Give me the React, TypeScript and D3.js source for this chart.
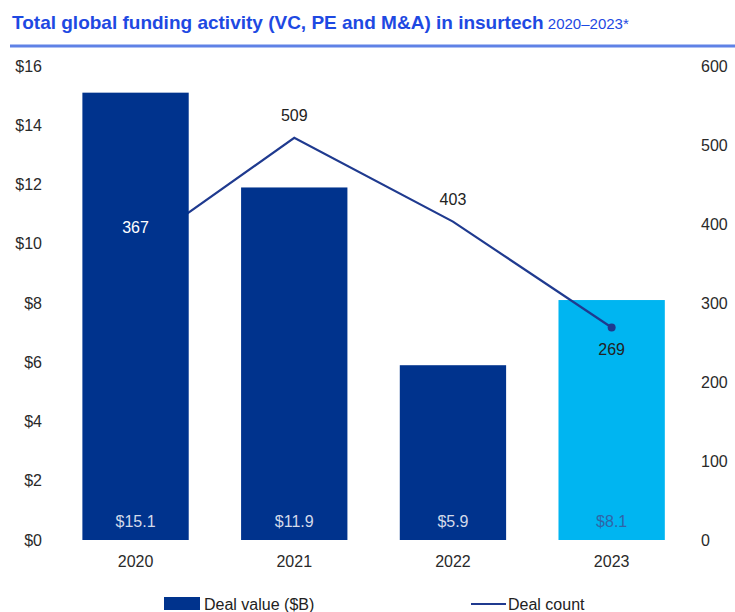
import React from "react";
import * as d3 from "d3";

const years = ["2020", "2021", "2022", "2023"];
const dealValue = [15.1, 11.9, 5.9, 8.1];
const dealCount = [367, 509, 403, 269];
const highlighted = [false, false, false, true];
const leftTicks = [0, 2, 4, 6, 8, 10, 12, 14, 16];
const rightTicks = [0, 100, 200, 300, 400, 500, 600];

const W = 735;
const H = 612;
const FONT = "'Liberation Sans', Arial, sans-serif";
const DARK = "#00338D";
const LIGHT = "#00B5F1";
const LINE = "#1F3A8F";

export default function App() {
  const x = d3.scaleBand<string>().domain(years).range([56.2, 691]).paddingInner(0.33).paddingOuter(0.165);
  const yL = d3.scaleLinear().domain([0, 16]).range([540, 66]);
  const yR = d3.scaleLinear().domain([0, 600]).range([540, 66]);
  const cx = (i: number) => (x(years[i]) as number) + x.bandwidth() / 2;
  const line = d3
    .line<number>()
    .x((_, i) => cx(i))
    .y((d) => yR(d));

  const bar = (i: number) => (
    <rect
      key={"b" + i}
      x={x(years[i])}
      y={yL(dealValue[i])}
      width={x.bandwidth()}
      height={yL(0) - yL(dealValue[i])}
      fill={highlighted[i] ? LIGHT : DARK}
    />
  );

  return (
    <svg width={W} height={H} style={{ position: "absolute", left: 0, top: 0, background: "#fff" }} fontFamily={FONT}>
      <text x={12} y={29} fill="#1E49E2" fontSize={19}>
        <tspan fontWeight="bold">Total global funding activity (VC, PE and M&amp;A) in insurtech</tspan>
        <tspan fontSize={15}> 2020–2023*</tspan>
      </text>
      <line x1={10} x2={735} y1={46} y2={46} stroke="#5F82E6" strokeWidth={3} />

      {leftTicks.map((t) => (
        <text key={"l" + t} x={42} y={yL(t)} dy="0.35em" textAnchor="end" fontSize={16} fill="#2a2a2a">
          {"$" + t}
        </text>
      ))}
      {rightTicks.map((t) => (
        <text key={"r" + t} x={701} y={yR(t)} dy="0.35em" textAnchor="start" fontSize={16} fill="#2a2a2a">
          {t}
        </text>
      ))}

      {years.map((_, i) => (highlighted[i] ? bar(i) : null))}
      <path d={line(dealCount) || ""} fill="none" stroke={LINE} strokeWidth={2.2} />
      {years.map((_, i) => (highlighted[i] ? null : bar(i)))}
      {years.map((_, i) =>
        highlighted[i] ? <circle key={"c" + i} cx={cx(i)} cy={yR(dealCount[i])} r={4} fill={LINE} /> : null
      )}

      {years.map((yr, i) => (
        <text key={"v" + i} x={cx(i)} y={yL(0) - 19} dy="0.35em" textAnchor="middle" fontSize={16}
          fill={highlighted[i] ? "#2F65A8" : "#D3DAEA"}>
          {"$" + dealValue[i].toFixed(1)}
        </text>
      ))}
      {years.map((yr, i) => {
        const inside = yR(dealCount[i]) > yL(dealValue[i]);
        const ly = i === 3 ? yR(dealCount[i]) + 22 : inside ? yR(dealCount[i]) - 23 : yR(dealCount[i]) - 22;
        return (
          <text key={"n" + i} x={cx(i)} y={ly} dy="0.35em" textAnchor="middle" fontSize={16}
            fill={inside && !highlighted[i] ? "#fff" : "#222"}>
            {dealCount[i]}
          </text>
        );
      })}

      {years.map((yr, i) => (
        <text key={"x" + i} x={cx(i)} y={561} dy="0.35em" textAnchor="middle" fontSize={16} fill="#2a2a2a">
          {yr}
        </text>
      ))}

      <rect x={164} y={597} width={36} height={13} fill={DARK} />
      <text x={204} y={604} dy="0.35em" fontSize={16} fill="#222">Deal value ($B)</text>
      <line x1={471} x2={506} y1={604} y2={604} stroke={LINE} strokeWidth={2.2} />
      <text x={508} y={604} dy="0.35em" fontSize={16} fill="#222">Deal count</text>
    </svg>
  );
}
